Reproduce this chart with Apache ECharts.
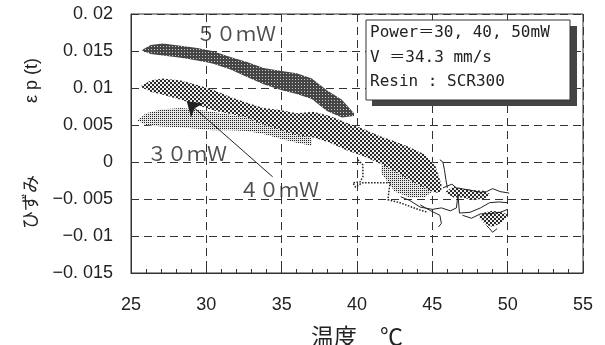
<!DOCTYPE html>
<html>
<head>
<meta charset="utf-8">
<script src="https://cdn.jsdelivr.net/npm/echarts@6/dist/echarts.min.js"></script>
<style>
  html, body { margin: 0; padding: 0; background: #fff; }
  #chart { width: 605px; height: 345px; }
</style>
</head>
<body>
<div id="chart"></div>
<script>
// axes
const xMin = 25, xMax = 55, xStep = 5
const yMin = -0.015, yMax = 0.02, yStep = 0.005
const xTickLabels = ['25', '30', '35', '40', '45', '50', '55']
const yTickLabels = ['−0. 015', '−0. 01', '−0. 005', '0', '0. 005', '0. 01', '0. 015', '0. 02']

// bands: [温度, upper strain, lower strain]
const band50 = [[25.7, 0.0151, 0.0151], [26.3, 0.0158, 0.0146], [27.1, 0.0160, 0.0144], [28.3, 0.0157, 0.0141],
  [29.4, 0.0154, 0.0137], [30.4, 0.0150, 0.0133], [31.6, 0.0142, 0.0125], [32.7, 0.0135, 0.0115],
  [33.8, 0.0127, 0.0105], [35.0, 0.0123, 0.0097], [36.0, 0.0120, 0.0092], [37.0, 0.0113, 0.0085],
  [38.0, 0.0097, 0.0069], [39.0, 0.0084, 0.0060], [39.8, 0.0066, 0.0062]]
const band40 = [[25.6, 0.0102, 0.0102], [26.3, 0.0110, 0.0095], [27.1, 0.0113, 0.0091], [28.3, 0.0110, 0.0084],
  [29.4, 0.0104, 0.0077], [30.4, 0.0098, 0.0070], [31.6, 0.0088, 0.0065], [32.7, 0.0080, 0.0060],
  [33.8, 0.0073, 0.0050], [35.0, 0.0070, 0.0043], [36.0, 0.0066, 0.0036], [37.1, 0.0068, 0.0033],
  [38.2, 0.0062, 0.0026], [39.3, 0.0053, 0.0016], [40.4, 0.0045, 0.0008], [41.5, 0.0035, -0.0002],
  [42.5, 0.0028, -0.0012], [43.5, 0.0020, -0.0025], [44.5, 0.0010, -0.0035], [45.2, -0.0005, -0.0042],
  [45.6, -0.0030, -0.0040]]
const band30 = [[25.4, 0.0056, 0.0056], [26.0, 0.0066, 0.0050], [27.0, 0.0071, 0.0048], [28.3, 0.0073, 0.0047],
  [29.4, 0.0071, 0.0045], [30.4, 0.0068, 0.0043], [31.6, 0.0064, 0.0043], [32.7, 0.0061, 0.0042],
  [33.8, 0.0055, 0.0038], [35.0, 0.0048, 0.0031], [36.0, 0.0040, 0.0026], [37.0, 0.0033, 0.0022]]
const patch30 = [[41.6, -0.0005, -0.0015], [42.5, 0.0000, -0.0040], [43.5, -0.0005, -0.0048],
  [44.5, -0.0015, -0.0048], [45.0, -0.0030, -0.0040]]
const patchA = [[45.9, -0.0040, -0.0042], [46.4, -0.0033, -0.0048], [47.0, -0.0036, -0.0048],
  [47.6, -0.0038, -0.0051], [48.4, -0.0039, -0.0050], [48.8, -0.0043, -0.0045]]
const patchB = [[48.1, -0.0073, -0.0075], [48.5, -0.0068, -0.0084], [49.0, -0.0066, -0.0088],
  [49.6, -0.0068, -0.0082], [50.0, -0.0071, -0.0073]]

// thin tangled traces at high temperature
const traceA = [[45.5, 0.0003], [45.7, 0.0000], [45.8, -0.0010], [45.9, -0.0024], [46.0, -0.0035]]
const traceB = [[45.7, -0.0035], [46.3, -0.0030], [46.6, -0.0035], [47.5, -0.0038], [48.2, -0.0041],
  [48.6, -0.0040], [49.0, -0.0036], [49.5, -0.0040], [50.1, -0.0042]]
const traceC = [[42.9, -0.0047], [43.5, -0.0052], [44.2, -0.0061], [45.0, -0.0064], [45.6, -0.0062],
  [46.2, -0.0066], [46.6, -0.0062], [46.7, -0.0044], [46.8, -0.0069], [47.5, -0.0068], [48.2, -0.0062],
  [48.8, -0.0055], [49.4, -0.0054], [50.0, -0.0055]]
const traceD = [[44.2, -0.0058], [44.9, -0.0066], [45.5, -0.0072], [45.6, -0.0083], [45.4, -0.0088]]
const traceE = [[47.0, -0.0072], [47.6, -0.0076], [48.2, -0.0070], [48.7, -0.0070], [49.5, -0.0068], [50.0, -0.0064]]
const traceF = [[48.6, -0.0086], [48.8, -0.0090], [49.0, -0.0095], [49.3, -0.0090]]
const dotted30 = [[40.06, 0.0003], [40.39, -0.0004], [40.39, -0.0020], [40.2, -0.0027], [39.73, -0.0028],
  [39.9, -0.0034], [40.2, -0.0030], [40.39, -0.0028], [42.19, -0.0028], [42.05, -0.0051],
  [42.85, -0.0055], [44.18, -0.0065], [44.71, -0.0068]]

// labels and arrow
const powerLabels = [[31.97, 0.0174, '５０ｍＷ'], [28.72, 0.0011, '３０ｍＷ'], [34.82, -0.0037, '４０ｍＷ']]
const arrow40 = [[34.4, -0.0020], [28.7, 0.0082]]
const boxLines = ['Power＝30, 40, 50mW', 'V ＝34.3 mm/s', 'Resin : SCR300']

// 网点纹理
const makePattern = (bg, dot, size, dots) => {
  const c = document.createElement('canvas')
  c.width = c.height = size
  const ctx = c.getContext('2d')
  ctx.fillStyle = bg
  ctx.fillRect(0, 0, size, size)
  ctx.fillStyle = dot
  dots.forEach(d => ctx.fillRect(d[0], d[1], d[2], d[3]))
  return { image: c, repeat: 'repeat' }
}
const fill50 = makePattern('#454545', '#cccccc', 3, [[1, 1, 1, 1]])
const fill40 = makePattern('#eeeeee', '#2a2a2a', 4, [[0, 0, 2, 2], [2, 2, 2, 2]])
const fill30 = makePattern('#e6e6e6', '#222222', 2, [[0, 0, 1, 1]])

const bandSeries = (band, fill) => ({
  type: 'custom',
  silent: true,
  data: band,
  encode: { x: 0, y: [1, 2] },
  renderItem: (params, api) => {
    if (params.dataIndex !== 0) return null
    const top = band.map(p => api.coord([p[0], p[1]]))
    const bottom = band.map(p => api.coord([p[0], p[2]])).reverse()
    return { type: 'polygon', shape: { points: top.concat(bottom) }, style: { fill: fill } }
  }
})

const traceSeries = (data, type) => ({
  type: 'line',
  silent: true,
  symbol: 'none',
  data: data,
  lineStyle: { color: '#222', width: type === 'dotted' ? 1.5 : 1, type: type || 'solid' }
})

const chart = echarts.init(document.getElementById('chart'))

const option = {
  backgroundColor: '#fff',
  animation: false,
  grid: {
    left: 131, right: 22, top: 14, bottom: 72, show: true, borderColor: '#333', borderWidth: 1,
    outerBoundsMode: 'none'
  },
  xAxis: {
    type: 'value', min: xMin, max: xMax, interval: xStep,
    name: '温度　℃', nameLocation: 'middle', nameGap: 52, nameMoveOverlap: false,
    nameTextStyle: { fontSize: 23, color: '#222', fontFamily: 'Noto Sans CJK JP' },
    axisLine: { onZero: false, lineStyle: { color: '#333' } },
    axisTick: { inside: true, length: 5, lineStyle: { color: '#333' } },
    minorTick: { show: true, splitNumber: 5, length: 4, lineStyle: { color: '#333' } },
    axisLabel: {
      margin: 23, fontSize: 18, color: '#222', fontFamily: 'Liberation Sans',
      formatter: v => xTickLabels[Math.round((v - xMin) / xStep)]
    },
    splitLine: { show: true, lineStyle: { color: '#333', type: [8, 5] } }
  },
  yAxis: {
    type: 'value', min: yMin, max: yMax, interval: yStep,
    name: 'ひずみ　　　　ε p (t)', nameLocation: 'middle', nameGap: 90, nameRotate: 90, nameMoveOverlap: false,
    nameTextStyle: { fontSize: 18, color: '#222', fontFamily: 'Liberation Sans, Noto Sans CJK JP' },
    axisLine: { onZero: false, lineStyle: { color: '#333' } },
    axisTick: { inside: true, length: 6, lineStyle: { color: '#333' } },
    axisLabel: {
      margin: 18, fontSize: 18, color: '#222', fontFamily: 'Liberation Sans',
      formatter: v => yTickLabels[Math.round((v - yMin) / yStep)]
    },
    splitLine: { show: true, lineStyle: { color: '#333', type: [8, 5] } }
  },
  series: [
    bandSeries(band30, fill30),
    bandSeries(patch30, fill30),
    bandSeries(band40, fill40),
    bandSeries(patchA, fill40),
    bandSeries(patchB, fill40),
    bandSeries(band50, fill50),
    traceSeries(traceA),
    traceSeries(traceB),
    traceSeries(traceC),
    traceSeries(traceD),
    traceSeries(traceE),
    traceSeries(traceF),
    traceSeries(dotted30, 'dotted'),
    {
      type: 'lines',
      coordinateSystem: 'cartesian2d',
      silent: true,
      symbol: ['none', 'arrow'],
      symbolSize: 14,
      lineStyle: { color: '#222', width: 1, opacity: 1, curveness: 0 },
      data: [{ coords: arrow40 }]
    },
    {
      type: 'scatter',
      silent: true,
      symbolSize: 0,
      data: powerLabels.map(l => ({ value: [l[0], l[1]], label: { formatter: l[2] } })),
      label: { show: true, position: 'inside', fontSize: 20, color: '#222', fontFamily: 'Noto Sans CJK JP' }
    }
  ],
  graphic: [
    { type: 'rect', z: 100, shape: { x: 372, y: 26, width: 205, height: 80 }, style: { fill: '#444' } },
    { type: 'rect', z: 101, shape: { x: 366, y: 20, width: 204, height: 80 }, style: { fill: '#fff', stroke: '#333', lineWidth: 1 } },
    ...boxLines.map((t, i) => ({
      type: 'text', z: 102, x: 370, y: 33 + i * 24.5,
      style: { text: t, fontSize: 16, fill: '#222', fontFamily: 'DejaVu Sans Mono, Noto Sans CJK JP', verticalAlign: 'middle' }
    }))
  ]
}

chart.setOption(option)
</script>
</body>
</html>
